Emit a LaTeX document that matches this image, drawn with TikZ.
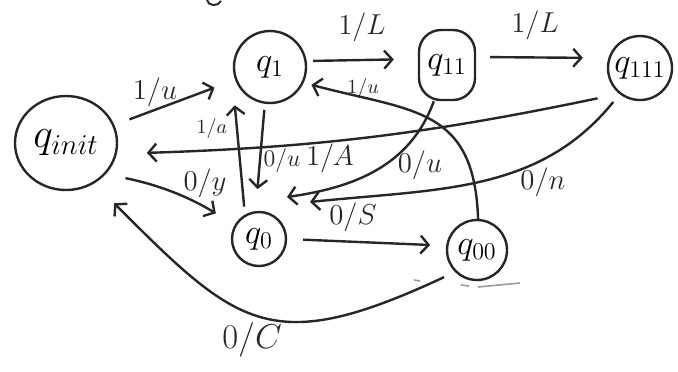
\documentclass[tikz,border=0pt]{standalone}
\usepackage{amsmath,amssymb}
\usepackage{xcolor}
\usepackage{tikz}
\usetikzlibrary{arrows.meta,shapes.geometric}
\definecolor{grafite}{HTML}{262626}
\definecolor{cinza}{HTML}{9A9A9A}

\begin{document}
\begin{tikzpicture}[x=0.5pt, y=-0.5pt, >={Straight Barb[length=4pt,width=9pt]},
  estado/.style={draw=grafite, line width=1.2pt, circle, inner sep=0pt, font=\LARGE},
  seta/.style={->, draw=grafite, line width=1.2pt},
  rotulo/.style={text=grafite, font=\Large, inner sep=1pt}]
  \useasboundingbox (0,0) rectangle (678,371);
  % estados
  \node[estado, ellipse, minimum width=51pt, minimum height=47pt, font=\huge] (qinit) at (66,143) {$q_{init}$};
  \node[estado, minimum size=36pt] (q1) at (270,67) {$q_1$};
  \node[estado, rectangle, rounded corners=11pt, minimum width=28pt, minimum height=35pt] (q11) at (447,65) {$q_{11}$};
  \node[estado, minimum size=32pt] (q111) at (640,68) {$q_{111}$};
  \node[estado, minimum size=27pt] (q0) at (259,239) {$q_0$};
  \node[estado, minimum size=30pt] (q00) at (477,250) {$q_{00}$};
  % pontas livres junto de q0
  \coordinate (q0a) at ([shift={(28,-42)}]q0.center);
  \coordinate (q0b) at ([shift={(51,-37)}]q0.center);
  % transicoes
  \draw[seta, shorten <=8pt, shorten >=11pt] (qinit) -- (q1);
  \draw[seta, shorten <=3pt, shorten >=12pt] ([yshift=3pt]q1.east) -- ([yshift=3pt]q11.west);
  \draw[seta, shorten <=7pt, shorten >=12pt] ([yshift=4pt]q11.east) -- ([yshift=5pt]q111.west);
  \draw[seta, shorten <=11pt, shorten >=15pt] (q111.231) to[bend left=5] (qinit.-12);
  \draw[seta, shorten <=3pt, shorten >=11pt] (q1.262) -- (q0.97);
  \draw[seta, shorten <=4pt, shorten >=6pt] (q0.120) -- ([xshift=-5pt]q1.south west);
  \draw[seta, shorten <=10pt, shorten >=11pt] (qinit.-38) to[bend left=10] (q0.150);
  \draw[seta, shorten <=8pt, shorten >=8pt] (q0.east) -- (q00.172);
  \draw[seta] (q11.250) to[out=250, in=8] (q0a);
  \draw[seta, shorten <=5pt] (q111.232) to[out=231, in=6] (q0b);
  \draw[seta, shorten >=4pt] (q00.88) to[out=92, in=-15, looseness=1.3] (q1.-25);
  \draw[seta, shorten <=6pt, shorten >=14pt] (q00.225) to[out=205, in=-45, looseness=1.4] (qinit.-55);
  % rotulos
  \node[rotulo] (r1u) at (155,92) {$1/u$};
  \node[rotulo] (r1L) at (362,27) {$1/L$};
  \node[rotulo] (r1La) at (535,25) {$1/L$};
  \node[rotulo] (r1A) at (330,158) {$1/A$};
  \node[rotulo, font=\large] (r0u) at (282,160) {$0/u$};
  \node[rotulo, font=\normalsize] (r1a) at (212,128) {$1/a$};
  \node[rotulo] (r0y) at (205,183) {$0/y$};
  \node[rotulo] (r0S) at (353,217) {$0/S$};
  \node[rotulo] (r0ua) at (420,165) {$0/u$};
  \node[rotulo] (r0n) at (543,182) {$0/n$};
  \node[rotulo, font=\normalsize] (r1ub) at (363,88) {$1/u$};
  \node[rotulo, font=\LARGE] (r0C) at (252,340) {$0/C$};
  % marcas soltas
  \draw[cinza, line width=0.8pt] (414,280) -- (420,281) (461,285) -- (469,286) (478,287) -- (520,283);
  \draw[grafite, line width=1pt] (207,0) .. controls (208,6) and (218,7) .. (221,1);
\end{tikzpicture}
\end{document}
